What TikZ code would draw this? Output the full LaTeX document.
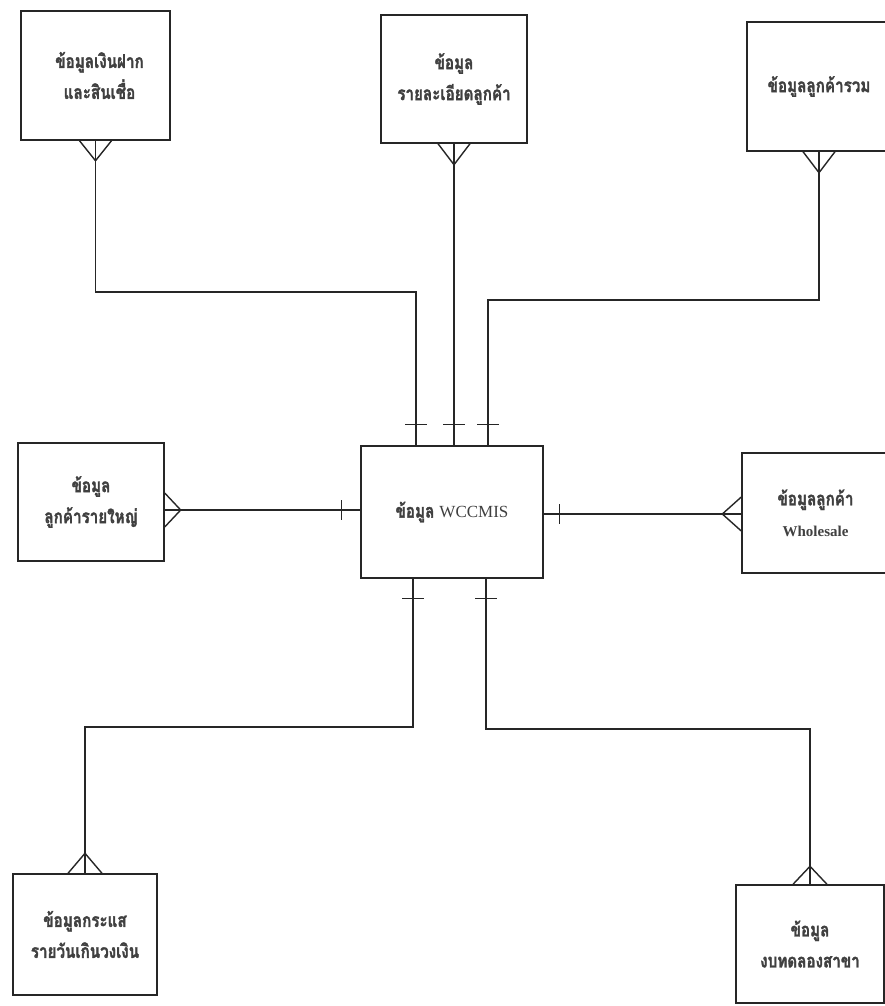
\documentclass[tikz,border=0pt]{standalone}
\usepackage{fontspec}
\newfontfamily\thai[Script=Thai,FakeStretch=0.8,FakeBold=1.6]{Loma}
\newfontfamily\lat{Liberation Serif}
\usetikzlibrary{calc}
\begin{document}
\begin{tikzpicture}[x=1pt,y=-1pt,
  box/.style={draw=black!85, line width=1.4pt, rectangle, inner sep=0pt, align=center,
    text=black!75, font=\thai\bfseries\fontsize{19}{31}\selectfont},
  ln/.style={line width=1.4pt, draw=black!85, line join=miter}]
\useasboundingbox[fill=white] (0,0) rectangle (885,1006);
% entities
\node[box, minimum width=149pt, minimum height=129pt] (b1) at (95.5,75.5) {\hspace*{8pt}ข้อมูลเงินฝาก\\\hspace*{8pt}และสินเชื่อ};
\node[box, minimum width=146pt, minimum height=128pt] (b2) at (454,79) {ข้อมูล\\รายละเอียดลูกค้า};
\node[box, minimum width=144pt, minimum height=129pt] (b3) at (819,86.5) {ข้อมูลลูกค้ารวม};
\node[box, minimum width=146pt, minimum height=118pt] (b4) at (91,502) {ข้อมูล\\ลูกค้ารายใหญ่};
\node[box, minimum width=182pt, minimum height=132pt] (c) at (452,512) {ข้อมูล {\lat\mdseries\fontsize{17}{20}\selectfont WCCMIS}};
\node[box, minimum width=153pt, minimum height=120pt] (b6) at (818.5,513) {\hspace*{-6pt}ข้อมูลลูกค้า\\\hspace*{-6pt}{\lat\fontsize{15}{20}\selectfont Wholesale}};
\node[box, minimum width=144pt, minimum height=121pt] (b7) at (85,934.5) {ข้อมูลกระแส\\รายวันเกินวงเงิน};
\node[box, minimum width=148pt, minimum height=118pt] (b8) at (810,944) {ข้อมูล\\งบทดลองสาขา};
% attachment points on the central entity
\coordinate (cN1) at ($(c.north)+(-36,0)$);
\coordinate (cN2) at ($(c.north)+(2,0)$);
\coordinate (cN3) at ($(c.north)+(36,0)$);
\coordinate (cS1) at ($(c.south)+(-39,0)$);
\coordinate (cS2) at ($(c.south)+(34,0)$);
\coordinate (yL) at (0,510);
\coordinate (yR) at (0,514);
\coordinate (cW) at (c.west |- yL);
\coordinate (cE) at (c.east |- yR);
\coordinate (p4) at (b4.east |- yL);
\coordinate (p6) at (b6.west |- yR);
% bend levels
\coordinate (h1) at (0,292);
\coordinate (h3) at (0,300);
\coordinate (h7) at (0,727);
\coordinate (h8) at (0,729);
% connectors
\draw[ln] (b1.south) |- (h1 -| cN1) -- (cN1);
\draw[ln] (b2.south) -- (cN2);
\draw[ln] (b3.south) |- (h3 -| cN3) -- (cN3);
\draw[ln] (p4) -- (cW);
\draw[ln] (cE) -- (p6);
\draw[ln] (cS1) |- (h7 -| b7.north) -- (b7.north);
\draw[ln] (cS2) |- (h8 -| b8.north) -- (b8.north);
% crow's feet (many)
\draw[ln] ($(b1.south)+(-16,0)$) -- ($(b1.south)+(0,20)$) -- ($(b1.south)+(16,0)$);
\draw[ln] ($(b2.south)+(-16,0)$) -- ($(b2.south)+(0,21)$) -- ($(b2.south)+(16,0)$);
\draw[ln] ($(b3.south)+(-16,0)$) -- ($(b3.south)+(0,21)$) -- ($(b3.south)+(16,0)$);
\draw[ln] ($(p4)+(0,-17)$) -- ($(p4)+(16,0)$) -- ($(p4)+(0,17)$);
\draw[ln] ($(p6)+(0,-17)$) -- ($(p6)+(-19,0)$) -- ($(p6)+(0,17)$);
\draw[ln] ($(b7.north)+(-17,0)$) -- ($(b7.north)+(0,-20)$) -- ($(b7.north)+(17,0)$);
\draw[ln] ($(b8.north)+(-17,0)$) -- ($(b8.north)+(0,-18)$) -- ($(b8.north)+(17,0)$);
% one marks
\draw[ln] ($(cN1)+(-11,-21)$) -- ($(cN1)+(11,-21)$);
\draw[ln] ($(cN2)+(-11,-21)$) -- ($(cN2)+(11,-21)$);
\draw[ln] ($(cN3)+(-11,-21)$) -- ($(cN3)+(11,-21)$);
\draw[ln] ($(cW)+(-19,-10)$) -- ($(cW)+(-19,10)$);
\draw[ln] ($(cE)+(16,-10)$) -- ($(cE)+(16,10)$);
\draw[ln] ($(cS1)+(-11,20)$) -- ($(cS1)+(11,20)$);
\draw[ln] ($(cS2)+(-11,20)$) -- ($(cS2)+(11,20)$);
\end{tikzpicture}
\end{document}
